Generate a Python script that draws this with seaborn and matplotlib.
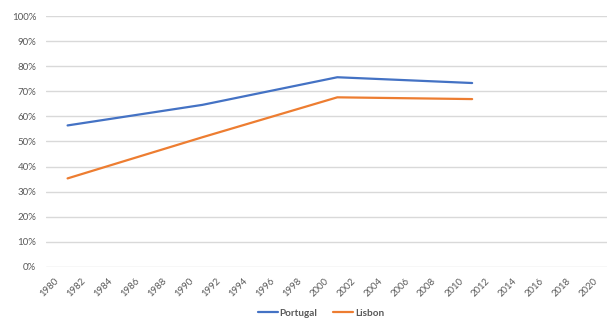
import matplotlib
matplotlib.use("Agg")
import matplotlib.pyplot as plt
import seaborn as sns
import pandas as pd
from matplotlib.ticker import PercentFormatter, MultipleLocator

# Census years and shares for each area
years = [1981, 1991, 2001, 2011]
portugal = [0.564, 0.646, 0.756, 0.733]
lisbon = [0.353, 0.517, 0.676, 0.669]
series_names = ["Portugal", "Lisbon"]
x_ticks = list(range(1980, 2021, 2))

df = pd.DataFrame({
    "year": years * 2,
    "share": portugal + lisbon,
    "area": [series_names[0]] * len(years) + [series_names[1]] * len(years),
})

sns.set_theme(style="white")
plt.rcParams["font.family"] = ["Lato", "DejaVu Sans"]

text_color = "#595959"
grid_color = "#D9D9D9"

fig = plt.figure(figsize=(6.08, 3.2), dpi=100)
ax = fig.add_axes([46 / 608, 1 - 267 / 320, 561 / 608, 251 / 320])

sns.lineplot(
    data=df, x="year", y="share", hue="area",
    palette={"Portugal": "#4472C4", "Lisbon": "#ED7D31"},
    linewidth=1.6, ax=ax, legend=False,
)

ax.set_xlim(1979.4, 2021.0)
ax.set_ylim(0, 1.0)
ax.yaxis.set_major_locator(MultipleLocator(0.1))
ax.yaxis.set_major_formatter(PercentFormatter(1.0, decimals=0))
ax.set_xticks(x_ticks)
ax.set_xticklabels([str(t) for t in x_ticks])
ax.grid(axis="y", color=grid_color, linewidth=1.0)
ax.set_axisbelow(True)
for side in ["top", "right", "left", "bottom"]:
    ax.spines[side].set_visible(False)
ax.set_xlabel("")
ax.set_ylabel("")

ax.tick_params(axis="y", length=0, pad=7, labelsize=7, labelcolor=text_color)
ax.tick_params(axis="x", length=0, pad=7, labelsize=6.8, labelcolor=text_color)
for lbl in ax.get_xticklabels():
    lbl.set_rotation(45)
    lbl.set_ha("right")
    lbl.set_va("top")
    lbl.set_rotation_mode("anchor")

handles = [
    plt.Line2D([], [], color="#4472C4", linewidth=1.6),
    plt.Line2D([], [], color="#ED7D31", linewidth=1.6),
]
leg = fig.legend(
    handles, series_names, loc="center", bbox_to_anchor=(321 / 608, 1 - 313 / 320),
    ncol=2, frameon=False, handlelength=2.0, handletextpad=0.2,
    columnspacing=1.6, labelcolor=text_color,
    prop={"size": 7.2, "weight": "bold"},
)

fig.savefig("out.png", dpi=100)
